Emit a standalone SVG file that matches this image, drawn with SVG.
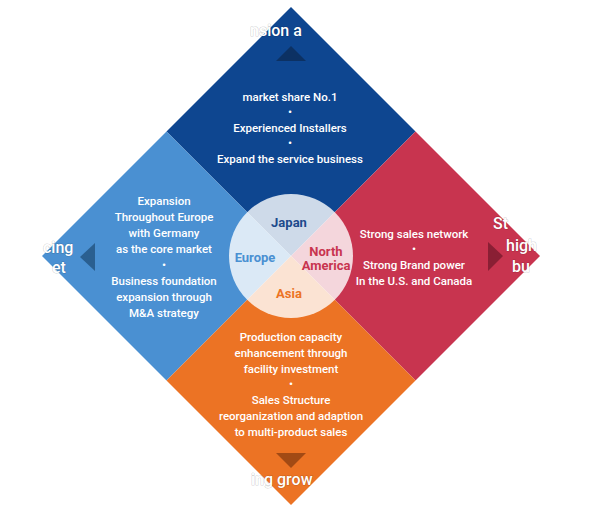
<svg xmlns="http://www.w3.org/2000/svg" width="596" height="514" viewBox="0 0 596 514">
<style>
text{font-family:Roboto,"Liberation Sans",sans-serif;}
.b{fill:#fff;font-size:11.5px;font-weight:500;text-anchor:middle;}
.e{fill:#fff;font-size:16px;font-weight:500;stroke:#000;stroke-opacity:0.18;stroke-width:1.2;paint-order:stroke;}
.c{font-size:13px;font-weight:700;text-anchor:middle;}
</style>
<rect width="596" height="514" fill="#fff"/>
<g id="top">
<polygon points="291,7 415.5,131.5 291,256 166.5,131.5" fill="#0e4690"/>
<polygon points="276,61 306,61 291,46" fill="#0c3163"/>
<text class="b" x="290" y="101">market share No.1</text>
<text class="b" x="290" y="116">•</text>
<text class="b" x="290" y="132">Experienced Installers</text>
<text class="b" x="290" y="147">•</text>
<text class="b" x="290" y="163">Expand the service business</text>
</g>
<g id="left">
<polygon points="42,256 166.5,131.5 291,256 166.5,380.5" fill="#4a90d2"/>
<polygon points="95,243 95,271 80,257" fill="#2a5f90"/>
<text class="b" x="164" y="205">Expansion</text>
<text class="b" x="164" y="221">Throughout Europe</text>
<text class="b" x="164" y="237">with Germany</text>
<text class="b" x="164" y="253">as the core market</text>
<text class="b" x="164" y="269">•</text>
<text class="b" x="164" y="285">Business foundation</text>
<text class="b" x="164" y="301">expansion through</text>
<text class="b" x="164" y="317">M&amp;A strategy</text>
</g>
<g id="right">
<polygon points="415.5,131.5 540,256 415.5,380.5 291,256" fill="#c8344f"/>
<polygon points="488,242 488,271 503,256" fill="#8a1f34"/>
<text class="b" x="414" y="238">Strong sales network</text>
<text class="b" x="414" y="253">•</text>
<text class="b" x="414" y="269">Strong Brand power</text>
<text class="b" x="414" y="285">In the U.S. and Canada</text>
</g>
<g id="bottom">
<polygon points="291,256 415.5,380.5 291,505 166.5,380.5" fill="#ec7324"/>
<polygon points="276,453 306,453 291,468" fill="#a24a14"/>
<text class="b" x="291" y="341">Production capacity</text>
<text class="b" x="291" y="357">enhancement through</text>
<text class="b" x="291" y="373">facility investment</text>
<text class="b" x="291" y="388">•</text>
<text class="b" x="291" y="404">Sales Structure</text>
<text class="b" x="291" y="420">reorganization and adaption</text>
<text class="b" x="291" y="436">to multi-product sales</text>
</g>
<g id="edge-labels">
<text class="e" x="250" y="36">nsion a</text>
<text class="e" x="43" y="253">cing</text>
<text class="e" x="52" y="273">et</text>
<text class="e" x="493" y="229">St</text>
<text class="e" x="506" y="251">high</text>
<text class="e" x="512" y="272">bu</text>
<text class="e" x="251" y="485">ing grow</text>
</g>
<g id="center">
<circle cx="291" cy="256" r="62" fill="#fff" fill-opacity="0.8"/>
<text class="c" x="289" y="227" fill="#1d4a8c">Japan</text>
<text class="c" x="255" y="262" fill="#4a90d2">Europe</text>
<text class="c" x="326" y="256" fill="#c8344f">North</text>
<text class="c" x="326" y="270" fill="#c8344f">America</text>
<text class="c" x="289" y="298" fill="#ec7324">Asia</text>
</g>
</svg>
